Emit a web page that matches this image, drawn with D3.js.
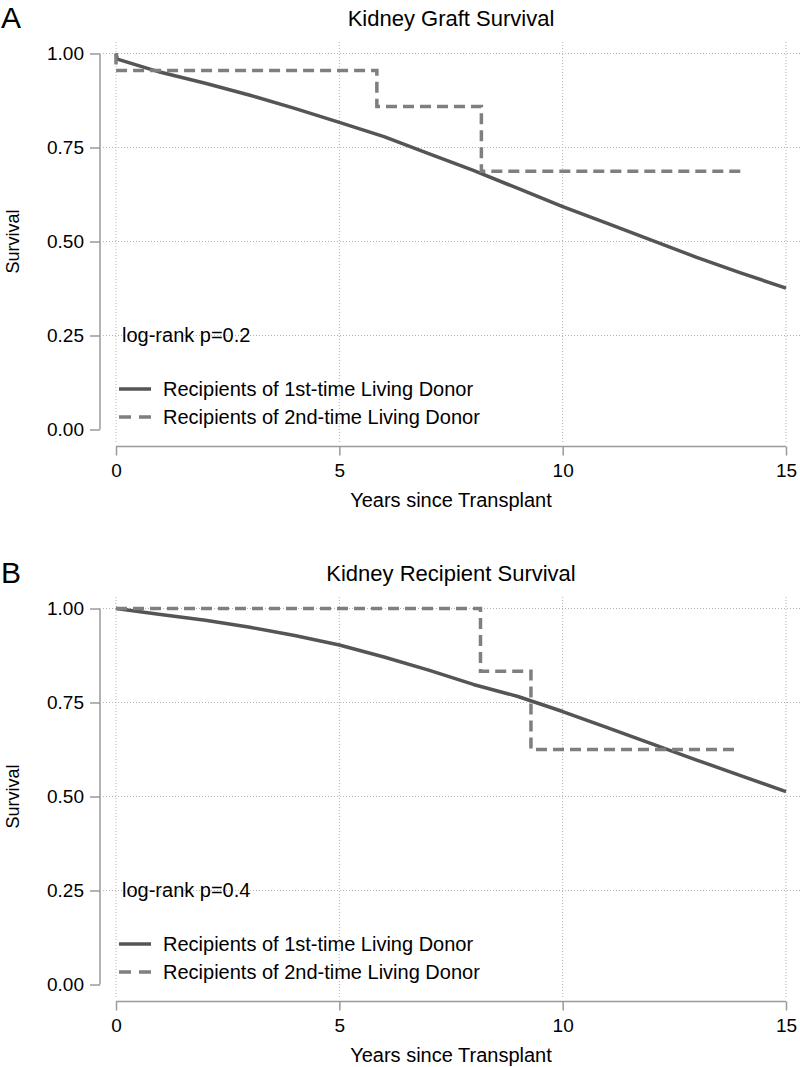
<!DOCTYPE html>
<html>
<head>
<meta charset="utf-8">
<script src="https://cdn.jsdelivr.net/npm/d3@7"></script>
<style>
  html, body { margin: 0; padding: 0; background: #fff; }
  svg { display: block; font-family: "Liberation Sans", Arial, Helvetica, sans-serif; }
</style>
</head>
<body>
<svg id="chart" width="800" height="1067"></svg>
<script>
// ---------- DATA ----------
const panelLetters = ["A", "B"];
const panelTitles = ["Kidney Graft Survival", "Kidney Recipient Survival"];
const pValueLabels = ["log-rank p=0.2", "log-rank p=0.4"];
const seriesNames = ["Recipients of 1st-time Living Donor", "Recipients of 2nd-time Living Donor"];
const xTicks = [0, 5, 10, 15];
const yTicks = [0, 0.25, 0.5, 0.75, 1];
const xAxisTitle = "Years since Transplant";
const yAxisTitle = "Survival";

// Panel A: graft survival
const graftFirstYears = [0, 0.03, 1, 2, 3, 4, 5, 6, 7, 8, 9, 10, 11, 12, 13, 14, 15];
const graftFirstSurv  = [1.0, 0.985, 0.950, 0.921, 0.889, 0.854, 0.817, 0.779, 0.734, 0.689, 0.641, 0.593, 0.548, 0.503, 0.458, 0.416, 0.376];
const graftSecondYears = [0, 0, 5.84, 8.18, 13.98];
const graftSecondSurv  = [1.0, 0.955, 0.859, 0.687, 0.687];

// Panel B: recipient survival
const recipFirstYears = [0, 1, 2, 3, 4, 5, 6, 7, 8, 9, 10, 11, 12, 13, 14, 15];
const recipFirstSurv  = [1.0, 0.984, 0.969, 0.950, 0.928, 0.903, 0.871, 0.836, 0.798, 0.766, 0.726, 0.683, 0.640, 0.597, 0.555, 0.513];
const recipSecondYears = [0, 8.16, 9.29, 13.95];
const recipSecondSurv  = [1.0, 0.833, 0.625, 0.625];

// ---------- DRAW ----------
const svg = d3.select("#chart");
const zip = (xs, ys) => xs.map((x, i) => ({ t: x, s: ys[i] }));

const panels = [
  { first: zip(graftFirstYears, graftFirstSurv), second: zip(graftSecondYears, graftSecondSurv) },
  { first: zip(recipFirstYears, recipFirstSurv), second: zip(recipSecondYears, recipSecondSurv) }
];

const solidColor = "#555555";
const dashColor = "#7f7f7f";
const axisColor = "#9a9a9a";
const gridColor = "#b4b4b4";

panels.forEach((p, i) => {
  const off = i === 0 ? 0 : 555;
  const g = svg.append("g").attr("transform", `translate(0,${off})`);

  const x = d3.scaleLinear().domain([0, 15]).range([116, 786]);
  const y = d3.scaleLinear().domain([0, 1]).range([429.5, 53.5]);

  // Panel letter
  g.append("text").attr("x", 1).attr("y", 28)
    .attr("font-size", 30).attr("fill", "#000").text(panelLetters[i]);

  // Title
  g.append("text").attr("x", 451).attr("y", 26).attr("text-anchor", "middle")
    .attr("font-size", 22).attr("fill", "#000").text(panelTitles[i]);

  // Grid lines
  const grid = g.append("g");
  grid.selectAll("line.h").data(yTicks.filter(v => v > 0)).join("line")
    .attr("x1", 103).attr("x2", 800)
    .attr("y1", d => y(d)).attr("y2", d => y(d))
    .attr("stroke", gridColor).attr("stroke-width", 1).attr("stroke-dasharray", "1,2");
  grid.selectAll("line.v").data(xTicks).join("line")
    .attr("x1", d => x(d)).attr("x2", d => x(d))
    .attr("y1", 42).attr("y2", 442)
    .attr("stroke", gridColor).attr("stroke-width", 1).attr("stroke-dasharray", "1,2");

  // Y axis
  const yAxis = d3.axisLeft(y).tickValues(yTicks).tickFormat(d3.format(".2f")).tickSize(10).tickPadding(6);
  const ya = g.append("g").attr("transform", "translate(100,0)").call(yAxis);
  ya.select(".domain").attr("stroke", axisColor).attr("stroke-width", 1.5).attr("d", `M0,${y(1)}V${y(0)}`);
  ya.selectAll(".tick line").attr("stroke", axisColor).attr("stroke-width", 1.5);
  ya.selectAll(".tick text").attr("font-size", 19).attr("fill", "#000")
    .attr("font-family", "Liberation Sans, Arial, sans-serif");

  // X axis
  const xAxis = d3.axisBottom(x).tickValues(xTicks).tickSize(9).tickPadding(8);
  const xa = g.append("g").attr("transform", "translate(0,446.5)").call(xAxis);
  xa.select(".domain").attr("stroke", axisColor).attr("stroke-width", 1.5).attr("d", `M${x(0)},0H${x(15)}`);
  xa.selectAll(".tick line").attr("stroke", axisColor).attr("stroke-width", 1.5);
  xa.selectAll(".tick text").attr("font-size", 19).attr("fill", "#000")
    .attr("font-family", "Liberation Sans, Arial, sans-serif");

  // Axis titles
  g.append("text").attr("x", 451).attr("y", 507).attr("text-anchor", "middle")
    .attr("font-size", 20).attr("fill", "#000").text(xAxisTitle);
  g.append("text").attr("transform", `translate(19,${(y(0) + y(1)) / 2}) rotate(-90)`)
    .attr("text-anchor", "middle").attr("font-size", 18).attr("fill", "#000").text(yAxisTitle);

  // Curves
  const lineStep = d3.line().x(d => x(d.t)).y(d => y(d.s)).curve(d3.curveStepAfter);

  g.append("path").datum(p.first).attr("d", d3.line().x(d => x(d.t)).y(d => y(d.s)).curve(d3.curveLinear))
    .attr("fill", "none").attr("stroke", solidColor).attr("stroke-width", 3.5)
    .attr("stroke-linejoin", "round");
  g.append("path").datum(p.second).attr("d", lineStep)
    .attr("fill", "none").attr("stroke", dashColor).attr("stroke-width", 3.5)
    .attr("stroke-dasharray", "11,6");

  // p-value text
  g.append("text").attr("x", 122).attr("y", 342).attr("font-size", 20).attr("fill", "#000")
    .text(pValueLabels[i]);

  // Legend
  const leg = g.append("g");
  const rowsY = [389, 417];
  seriesNames.forEach((name, k) => {
    leg.append("line").attr("x1", 119).attr("x2", 151).attr("y1", rowsY[k]).attr("y2", rowsY[k])
      .attr("stroke", k === 0 ? solidColor : dashColor).attr("stroke-width", 3.5)
      .attr("stroke-dasharray", k === 0 ? null : "12,8");
    leg.append("text").attr("x", 163).attr("y", rowsY[k] + 7).attr("font-size", 20)
      .attr("fill", "#000").text(name);
  });
});
</script>
</body>
</html>
